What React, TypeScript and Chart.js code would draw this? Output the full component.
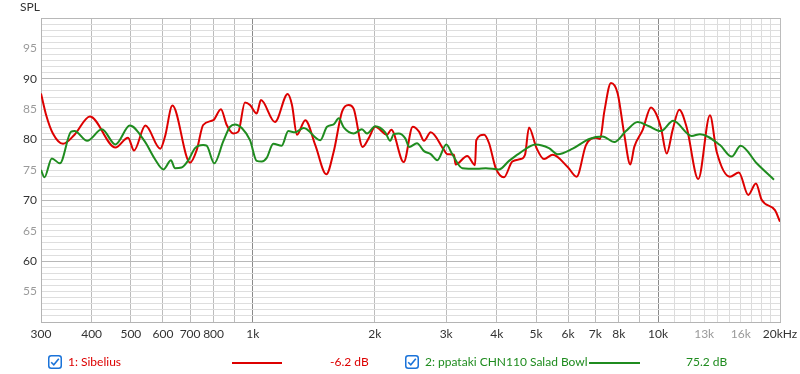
import React, { useEffect, useRef } from "react";
import { Chart, registerables } from "chart.js";

Chart.register(...registerables);

// ---- data ----
const RED_FREQ = [
  300, 309, 321, 340, 363, 396, 458, 492, 509, 543, 591, 607, 633, 700, 727, 754, 799, 834, 862, 895,
  921, 956, 984, 1022, 1047, 1134, 1219, 1249, 1285, 1347, 1426, 1518, 1583, 1660, 1724, 1773, 1866,
  1931, 2005, 2143, 2196, 2357, 2481, 2571, 2645, 2747, 2963, 3019, 3135, 3165, 3382, 3534, 3560,
  3721, 3828, 3976, 4166, 4369, 4584, 4696, 4803, 5007, 5232, 5497, 5985, 6297, 6640, 7029, 7192,
  7369, 7653, 7950, 8256, 8542, 8737, 9165, 9605, 9885, 10170, 10506, 10867, 11282, 11770, 12570,
  13434, 13955, 15045, 15834, 16697, 17445, 18018, 19433, 20000,
];
const RED_SPL = [
  87.6, 84.0, 81.0, 79.3, 80.8, 83.8, 78.7, 80.3, 78.2, 82.3, 78.5, 80.5, 85.6, 76.2, 78.3, 82.4, 83.2,
  85.0, 82.4, 81.0, 81.3, 86.1, 85.7, 84.3, 86.5, 82.9, 87.5, 85.7, 80.8, 83.2, 79.1, 74.3, 78.0, 84.6,
  85.7, 85.1, 78.8, 80.2, 82.1, 80.8, 81.6, 76.3, 82.1, 81.3, 79.8, 81.2, 78.3, 77.6, 77.5, 75.9, 77.3,
  75.8, 79.9, 80.8, 79.4, 75.3, 73.8, 76.4, 76.8, 77.5, 82.0, 78.7, 76.8, 77.5, 75.5, 73.9, 79.1, 80.3,
  80.1, 84.6, 89.3, 87.6, 80.8, 75.9, 78.8, 81.6, 85.3, 84.3, 81.9, 77.7, 81.6, 84.9, 82.0, 73.5, 84.0,
  78.0, 73.9, 74.6, 70.9, 72.8, 70.1, 68.4, 66.5,
];
const GREEN_FREQ = [
  300, 306, 319, 334, 356, 363, 390, 424, 458, 497, 541, 572, 602, 628, 642, 667, 693, 720, 754, 769,
  803, 845, 878, 904, 939, 984, 1022, 1052, 1082, 1123, 1178, 1223, 1271, 1335, 1467, 1524, 1583, 1629,
  1676, 1773, 1859, 1913, 2005, 2122, 2183, 2226, 2290, 2378, 2432, 2541, 2645, 2747, 2852, 3002, 3106,
  3288, 3580, 3757, 4050, 4288, 4537, 4990, 5381, 5655, 6157, 6766, 7300, 7800, 8333, 8906, 9500,
  10170, 10900, 12107, 12692, 14220, 15192, 15990, 17517, 19325,
];
const GREEN_SPL = [
  75.0, 73.8, 76.9, 76.1, 81.3, 81.4, 79.8, 81.7, 79.2, 82.3, 79.7, 76.9, 75.1, 76.6, 75.3, 75.4, 76.6,
  78.6, 79.1, 79.0, 76.1, 79.7, 82.1, 82.5, 81.9, 79.9, 76.5, 76.4, 77.0, 79.3, 79.0, 81.4, 81.2, 81.9,
  79.9, 82.1, 82.5, 83.5, 82.0, 81.0, 81.7, 81.0, 82.2, 81.2, 79.8, 80.9, 81.0, 80.2, 78.8, 79.4, 78.1,
  77.6, 76.6, 79.2, 77.6, 75.3, 75.2, 75.3, 75.1, 76.5, 77.7, 79.2, 78.6, 77.6, 78.5, 80.1, 80.5, 79.6,
  81.4, 82.9, 82.2, 81.4, 83.1, 80.6, 80.9, 79.1, 77.2, 79.0, 76.1, 73.4,
];

const X_GRID = [
  300, 400, 500, 600, 700, 800, 900, 1000, 2000, 3000, 4000, 5000, 6000, 7000, 8000, 9000, 10000,
  11000, 12000, 13000, 14000, 15000, 16000, 17000, 18000, 19000, 20000,
];
const X_LABEL_VALUES = [300, 400, 500, 600, 700, 800, 1000, 2000, 3000, 4000, 5000, 6000, 7000, 8000, 10000, 13000, 16000, 20000];
const X_LABEL_TEXT = ["300", "400", "500", "600", "700", "800", "1k", "2k", "3k", "4k", "5k", "6k", "7k", "8k", "10k", "13k", "16k", "20kHz"];
const X_LABEL_FAINT = [13000, 16000];
const Y_MIN = 50;
const Y_MAX = 100;
const Y_LABELS = [55, 60, 65, 70, 75, 80, 85, 90, 95];

const RED = "#dd0000";
const GREEN = "#1f8c1f";
const FONT = "'Segoe UI', Lato, 'Noto Sans', sans-serif";

function CheckBox() {
  return (
    <svg width="14" height="14" viewBox="0 0 14 14" style={{ display: "block" }}>
      <rect x="0.75" y="0.75" width="12.5" height="12.5" rx="2.5" ry="2.5" fill="#fff" stroke="#1a73d9" strokeWidth="1.5" />
      <path d="M3.2 7.2 L5.8 9.8 L10.8 3.8" fill="none" stroke="#1a73d9" strokeWidth="1.6" />
    </svg>
  );
}

export default function App() {
  const ref = useRef<HTMLCanvasElement>(null);

  useEffect(() => {
    const canvas = ref.current!;
    const chart = new Chart(canvas, {
      type: "line",
      data: {
        datasets: [
          {
            label: "1: Sibelius",
            data: RED_FREQ.map((f, i) => ({ x: f, y: RED_SPL[i] })),
            borderColor: RED,
            borderWidth: 2,
            pointRadius: 0,
            cubicInterpolationMode: "monotone",
            order: 1,
          },
          {
            label: "2: ppataki CHN110 Salad Bowl",
            data: GREEN_FREQ.map((f, i) => ({ x: f, y: GREEN_SPL[i] })),
            borderColor: GREEN,
            borderWidth: 2,
            pointRadius: 0,
            cubicInterpolationMode: "monotone",
            order: 0,
          },
        ],
      },
      options: {
        animation: false,
        responsive: false,
        devicePixelRatio: 1,
        layout: { padding: { top: 18, right: 20, left: 0, bottom: 0 } },
        plugins: { legend: { display: false }, tooltip: { enabled: false }, title: { display: false } },
        scales: {
          x: {
            type: "logarithmic",
            min: 300,
            max: 20000,
            afterBuildTicks: (s: any) => {
              s.ticks = X_GRID.map((v) => ({ value: v }));
            },
            afterFit: (s: any) => {
              s.height = 52;
              s.paddingLeft = 0;
              s.paddingRight = 0;
            },
            grid: {
              drawTicks: false,
              color: (ctx: any) => {
                const v = ctx.tick && ctx.tick.value;
                if (v === 1000 || v === 10000) return "#8a8a8a";
                if (v > 10000 && v < 20000) return "#dcdcdc";
                return "#bcbcbc";
              },
            },
            border: { display: true, color: "#b4b4b4" },
            ticks: {
              autoSkip: false,
              maxRotation: 0,
              minRotation: 0,
              padding: 5,
              font: { family: FONT, size: 12 },
              color: (ctx: any) => (X_LABEL_FAINT.includes(ctx.tick.value) ? "#9a9a9a" : "#333333"),
              callback: (v: any) => {
                const i = X_LABEL_VALUES.indexOf(Number(v));
                return i >= 0 ? X_LABEL_TEXT[i] : "";
              },
            },
          },
          y: {
            type: "linear",
            min: Y_MIN,
            max: Y_MAX,
            afterBuildTicks: (s: any) => {
              const t = [];
              for (let v = Y_MIN; v <= Y_MAX; v++) t.push({ value: v });
              s.ticks = t;
            },
            afterFit: (s: any) => {
              s.width = 41;
              s.paddingTop = 0;
              s.paddingBottom = 0;
            },
            grid: {
              drawTicks: false,
              color: (ctx: any) => (ctx.tick && ctx.tick.value % 10 === 0 ? "#b8b8b8" : "#dedede"),
            },
            border: { display: true, color: "#b4b4b4" },
            ticks: {
              autoSkip: false,
              padding: 4,
              font: { family: FONT, size: 12 },
              color: (ctx: any) => (ctx.tick.value % 10 === 0 ? "#333333" : "#9a9a9a"),
              callback: (v: any) => (Y_LABELS.includes(Number(v)) ? String(v) : ""),
            },
          },
        },
      },
    });
    return () => chart.destroy();
  }, []);

  const text: React.CSSProperties = {
    position: "absolute",
    fontFamily: FONT,
    fontSize: 12,
    lineHeight: "16px",
    whiteSpace: "nowrap",
  };

  return (
    <div style={{ position: "fixed", left: 0, top: 0, width: 800, height: 374, background: "#fff" }}>
      <canvas ref={ref} width={800} height={374} style={{ position: "absolute", left: 0, top: 0 }} />
      <div style={{ ...text, left: 20, top: -1, color: "#333" }}>SPL</div>

      <div style={{ position: "absolute", left: 48, top: 355 }}><CheckBox /></div>
      <div style={{ ...text, left: 68, top: 354, color: RED }}>1: Sibelius</div>
      <div style={{ position: "absolute", left: 232, top: 362, width: 50, height: 2, background: RED }} />
      <div style={{ ...text, left: 330, top: 354, color: RED }}>-6.2 dB</div>

      <div style={{ position: "absolute", left: 405, top: 355 }}><CheckBox /></div>
      <div style={{ ...text, left: 425, top: 354, color: GREEN }}>2: ppataki CHN110 Salad Bowl</div>
      <div style={{ position: "absolute", left: 589, top: 362, width: 51, height: 2, background: GREEN }} />
      <div style={{ ...text, left: 686, top: 354, color: GREEN }}>75.2 dB</div>
    </div>
  );
}
